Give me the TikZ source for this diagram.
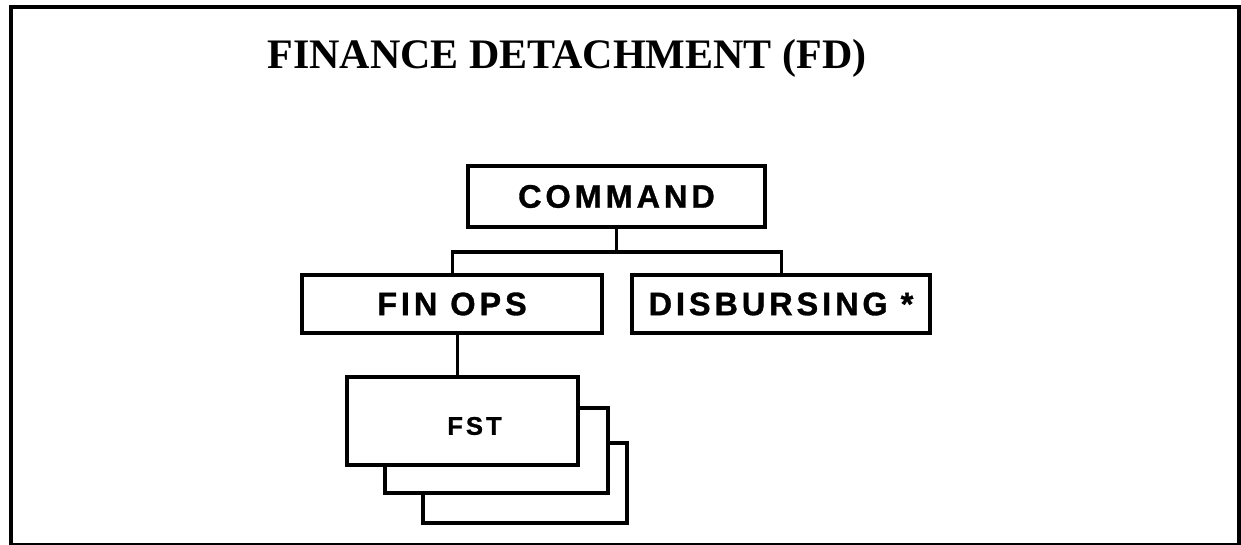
\documentclass[tikz,border=0pt]{standalone}
\usepackage{fontspec}
\setmainfont{Liberation Serif}
\newfontfamily\boxfont[LetterSpace=12, FakeBold=1]{Liberation Sans}
\begin{document}
\begin{tikzpicture}[x=1pt,y=-1pt,
  unitbox/.style={draw=black, line width=3.8pt, fill=white, inner sep=0pt,
    font=\boxfont\bfseries\fontsize{32.5}{36}\selectfont},
  teambox/.style={draw=black, line width=3.4pt, fill=white, inner sep=0pt},
  link/.style={draw=black, line width=3pt}]
\useasboundingbox (0,0) rectangle (1241,545);

% outer frame
\draw[line width=4pt] (11,545) -- (11,7.5) -- (1239,7.5) -- (1239,545);
\draw[line width=2pt] (11,544) -- (1239,544);

% title
\node[anchor=base, font=\bfseries\fontsize{42}{48}\selectfont] (title) at (567,69)
  {FINANCE DETACHMENT (FD)};

% headquarters and sections
\node[unitbox, minimum width=297pt, minimum height=61pt] (command) at (616.5,196.5) {COMMAND};
\node[unitbox, minimum width=300pt, minimum height=58pt] (finops) at (452,304) {FIN OPS};
\node[unitbox, minimum width=298pt, minimum height=58pt] (disb) at (781,304) {DISBURSING *};

% stacked finance support teams
\node[teambox, minimum width=204pt, minimum height=80pt] (fstc) at (525,483) {};
\node[teambox, minimum width=223pt, minimum height=85pt] (fstb) at (496.5,450.5) {};
\node[teambox, minimum width=231pt, minimum height=88pt] (fsta) at (462.5,421) {};
\node[font=\boxfont\bfseries\fontsize{25.5}{30}\selectfont, inner sep=0pt] (fstlabel)
  at ([xshift=12pt,yshift=-5pt]fsta.center) {FST};

% connectors
\coordinate (bus) at (616.5,252);
\draw[link] (command.south) -- (bus);
\draw[link] (finops.north) |- (bus) -| (disb.north);
\draw[link] ([xshift=5pt]finops.south) -- ([xshift=5pt]finops.south |- fsta.north);
\end{tikzpicture}
\end{document}
